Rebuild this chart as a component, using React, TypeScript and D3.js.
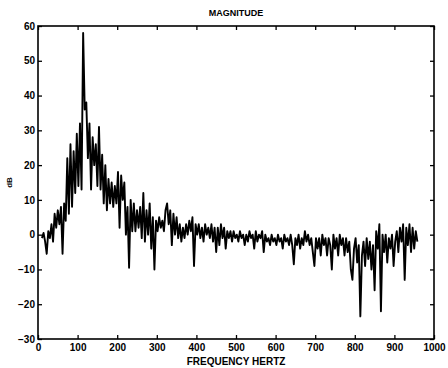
import React, { useEffect, useRef } from "react";
import * as d3 from "d3";

// spectrum sampled every 4 Hz starting at 10 Hz
const startHz = 10;
const stepHz = 4;
const dbValues = [
	-1, 0.5, -2, -5.5, 1, -1, 3, -2, 6, 2, 7, 3, 8, -5.5, 9, 4, 22, 6, 26, 8, 24, 12, 29, 14, 32,
	13, 58, 36, 38, 22, 32, 13, 28, 20, 26, 14, 31, 13, 23, 9, 20, 7, 16, 9, 15, 8, 14, 9, 18, 2,
	17, 10, 15, 0, 8, -9.5, 10, 1, 9, 1, 7, 2, 8, -1, 12, -2, 7, 0, 9, -4, 5, -10, 4, 1, 5,
	2, 4, 1, 7, 9, 3, 7, -3, 6, 0, 5, -1, 3, -2, 2, -1, 3, 0, 4, 1, 5, -9, 3, 0, 3,
	-1, 2, -2, 3, 0, 2, -1, 3, -2, 2, -5, 2, -3, 3, -1, 2, -4, 1, -1, 1, -2, 1, -1, 0, -2,
	1, -1, 0, -3, 0, -2, 1, -1, 0, -4, 1, -2, 0, -1, 1, -5, 0, -2, -1, -3, 0, -2, -1, -3, 0,
	-2, -1, -4, 0, -2, -1, -3, 0, -3, -8.5, -1, -3, 0, -4, -1, -3, 1, -2, 0, -3, -1, -5, -9, -1, -4,
	-1, -6, 0, -3, -1, -6, -1, -3, -10, 0, -4, -1, -6, 0, -3, -1, -6, -1, -5, -2, -10, -13, -4, -1, -8,
	-3, -23.5, -6, -2, -9, -1, -7, -2, -10, -3, -16, 1, -4, 3, -22, 0, -5, 0, -8, -1, -4, 0, -9, -2, 1,
	-5, 2, -2, 3, -13, 2, -3, 3, -5, 2, -4, 1, -2,
];

const xTicks = [0, 100, 200, 300, 400, 500, 600, 700, 800, 900, 1000];
const yTicks = [-30, -20, -10, 0, 10, 20, 30, 40, 50, 60];

export default function App() {
	const svgRef = useRef(null);

	useEffect(() => {
		const W = 448,
			H = 368;
		const margin = { top: 26, right: 14, bottom: 29, left: 38 };
		const width = W - margin.left - margin.right,
			height = H - margin.top - margin.bottom;

		const data = dbValues.map((v, i) => ({ f: startHz + i * stepHz, db: v }));

		const svg = d3.select(svgRef.current);
		svg.selectAll("*").remove();

		const g = svg
			.append("g")
			.attr("transform", `translate(${margin.left},${margin.top})`);

		const x = d3.scaleLinear().domain([0, 1000]).range([0, width]);
		const y = d3.scaleLinear().domain([-30, 60]).range([height, 0]);

		const font = "'Liberation Sans', Arial, sans-serif";

		// axes with inward ticks
		const styleAxis = (sel) => {
			sel.select(".domain").remove();
			sel.selectAll("line").attr("stroke", "#000").attr("stroke-width", 1.3);
			sel.selectAll("text")
				.attr("font-family", font)
				.attr("font-weight", "bold")
				.attr("font-size", 10)
				.attr("fill", "#000");
		};

		g.append("g")
			.attr("transform", `translate(0,${height})`)
			.call(
				d3.axisBottom(x).tickValues(xTicks).tickSize(-4).tickPadding(5).tickFormat(d3.format("d"))
			)
			.call(styleAxis);
		g.append("g")
			.call(d3.axisTop(x).tickValues(xTicks).tickSize(-4).tickFormat(() => ""))
			.call(styleAxis);
		g.append("g")
			.call(d3.axisLeft(y).tickValues(yTicks).tickSize(-4).tickPadding(3))
			.call(styleAxis);
		g.append("g")
			.attr("transform", `translate(${width},0)`)
			.call(d3.axisRight(y).tickValues(yTicks).tickSize(-4).tickFormat(() => ""))
			.call(styleAxis);

		// frame
		g.append("rect")
			.attr("width", width)
			.attr("height", height)
			.attr("fill", "none")
			.attr("stroke", "#000")
			.attr("stroke-width", 1.6);

		// spectrum line
		const line = d3
			.line()
			.x((d) => x(d.f))
			.y((d) => y(d.db));

		g.append("path")
			.datum(data)
			.attr("fill", "none")
			.attr("stroke", "#000")
			.attr("stroke-width", 1.9)
			.attr("stroke-linejoin", "round")
			.attr("d", line);

		// title and labels
		svg.append("text")
			.attr("x", margin.left + width / 2)
			.attr("y", 16)
			.attr("text-anchor", "middle")
			.attr("font-family", font)
			.attr("font-weight", "bold")
			.attr("font-size", 9)
			.text("MAGNITUDE");

		svg.append("text")
			.attr("x", margin.left + width / 2)
			.attr("y", H - 3)
			.attr("text-anchor", "middle")
			.attr("font-family", font)
			.attr("font-weight", "bold")
			.attr("font-size", 10)
			.text("FREQUENCY HERTZ");

		svg.append("text")
			.attr("transform", "rotate(-90)")
			.attr("x", -(margin.top + height / 2))
			.attr("y", 12)
			.attr("text-anchor", "middle")
			.attr("font-family", font)
			.attr("font-weight", "bold")
			.attr("font-size", 8)
			.text("dB");
	}, []);

	return (
		<svg
			ref={svgRef}
			width={448}
			height={368}
			style={{ position: "absolute", left: 0, top: 0, background: "#fff" }}
		></svg>
	);
}
